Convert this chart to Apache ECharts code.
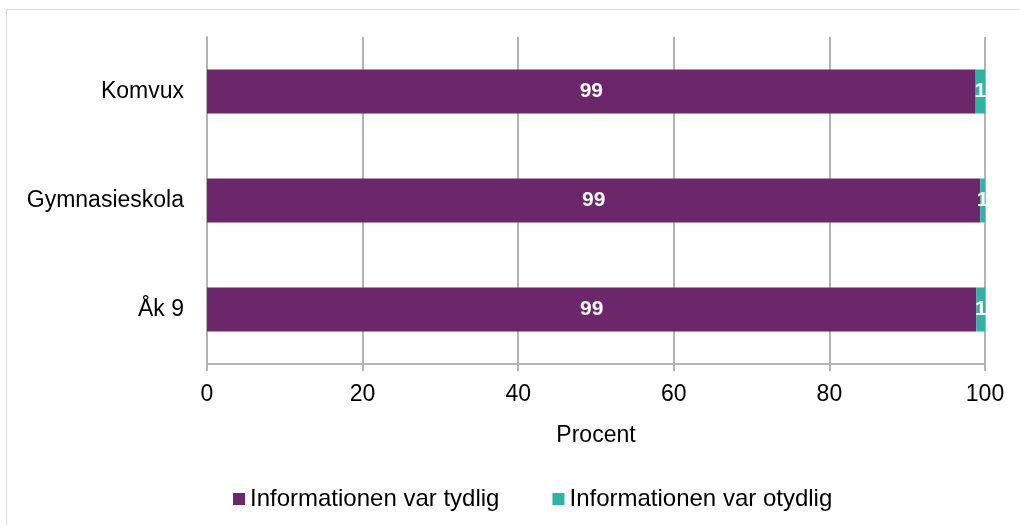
<!DOCTYPE html>
<html>
<head>
<meta charset="utf-8">
<script src="https://cdn.jsdelivr.net/npm/echarts@6/dist/echarts.min.js"></script>
<style>html,body{margin:0;padding:0;background:#fff}#c{width:1020px;height:525px}</style>
</head>
<body>
<div id="c"></div>
<script>
const categories = ['Åk 9', 'Gymnasieskola', 'Komvux'];
const tydlig = [98.9, 99.4, 98.8];
const otydlig = [1.1, 0.6, 1.2];
const tydligLabels = ['99', '99', '99'];
const otydligLabels = ['1', '1', '1'];
const seriesNames = ['Informationen var tydlig', 'Informationen var otydlig'];
const xTicks = [0, 20, 40, 60, 80, 100];

const font = 'Liberation Sans, Arial, sans-serif';
const chart = echarts.init(document.getElementById('c'), null, {renderer: 'canvas'});
chart.setOption({
  animation: false,
  backgroundColor: '#fff',
  graphic: [{type: 'rect', shape: {x: 6.5, y: 9.5, width: 1100, height: 600}, style: {fill: 'none', stroke: '#d9d9d9', lineWidth: 1}, silent: true}],
  grid: {left: 207, right: 35, top: 37, bottom: 161, containLabel: false},
  xAxis: {
    type: 'value', min: xTicks[0], max: xTicks[xTicks.length - 1], interval: 20,
    name: 'Procent', nameLocation: 'middle', nameGap: 60,
    nameTextStyle: {fontFamily: font, fontSize: 23, color: '#000'},
    axisLine: {show: true, lineStyle: {color: '#b3b3b3', width: 2}},
    axisTick: {show: true, length: 7, lineStyle: {color: '#b3b3b3', width: 2}},
    axisLabel: {fontFamily: font, fontSize: 23, color: '#000', margin: 19},
    splitLine: {show: true, lineStyle: {color: '#b3b3b3', width: 2}}
  },
  yAxis: {
    type: 'category', data: categories,
    axisLine: {show: true, lineStyle: {color: '#b3b3b3', width: 2}},
    axisTick: {show: false},
    axisLabel: {fontFamily: font, fontSize: 23, color: '#000', margin: 23}
  },
  legend: {
    top: 482, left: 228, itemWidth: 12, itemHeight: 12, itemGap: 53,
    icon: 'rect',
    textStyle: {fontFamily: font, fontSize: 24, color: '#000'},
    data: seriesNames
  },
  series: [
    {
      name: seriesNames[0], type: 'bar', stack: 's', barWidth: 44,
      data: tydlig, itemStyle: {color: '#6b2769'},
      label: {show: true, position: 'inside', color: '#fff', fontFamily: font, fontSize: 21, fontWeight: 'bold',
        formatter: p => tydligLabels[p.dataIndex]}
    },
    {
      name: seriesNames[1], type: 'bar', stack: 's', barWidth: 44,
      data: otydlig, itemStyle: {color: '#2bb3a4'},
      label: {show: true, position: 'inside', color: '#fff', fontFamily: font, fontSize: 21, fontWeight: 'bold',
        formatter: p => otydligLabels[p.dataIndex]}
    }
  ]
});
</script>
</body>
</html>
